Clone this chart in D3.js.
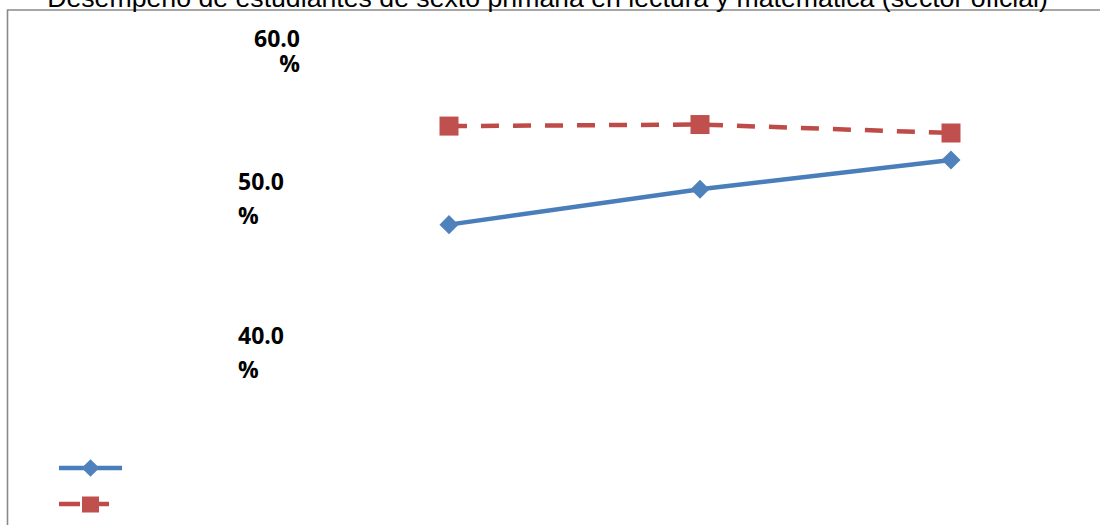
<!DOCTYPE html>
<html>
<head>
<meta charset="utf-8">
<script src="https://cdn.jsdelivr.net/npm/d3@7"></script>
<style>
  body { margin: 0; background: #fff; }
  svg { display: block; }
</style>
</head>
<body>
<svg width="1100" height="525"></svg>
<script>
// data
var titleText = "Desempeño de estudiantes de sexto primaria en lectura y matemática (sector oficial)";
var categories = ["c1", "c2", "c3"];
var lectura = [48.4, 50.7, 52.6];      // blue, solid, diamonds
var matematica = [54.8, 54.9, 54.35];  // red, dashed, squares
var yTicks = [40, 50, 60];

var svg = d3.select("svg");
var width = +svg.attr("width");
var height = +svg.attr("height");

// chart frame (cut at right and bottom)
svg.append("path")
    .attr("d", "M7.5," + height + "V10H" + width)
    .attr("fill", "none")
    .attr("stroke", "#898989")
    .attr("stroke-width", 1.6);

// title, partly above the picture as in the original
var title = svg.append("text")
    .attr("x", 547.5)
    .attr("y", 6.5)
    .attr("text-anchor", "middle")
    .attr("font-family", "Liberation Sans, Arial, sans-serif")
    .attr("font-size", 20)
    .attr("fill", "#000")
    .text(titleText);
var tw = title.node().getComputedTextLength();
title.attr("font-size", 20 * 1001 / tw);

var x = d3.scalePoint()
    .domain(categories)
    .range([449, 951]);

var y = d3.scaleLinear()
    .domain([40, 50])
    .range([354, 200]);

// y labels, wrapped in two lines like the original
var labels = svg.append("g")
    .attr("font-family", "Open Sans, Noto Sans, sans-serif")
    .attr("font-weight", "bold")
    .attr("font-size", 23)
    .attr("fill", "#000");

yTicks.forEach(function(v, i) {
  var top = i === yTicks.length - 1;
  var t = labels.append("text")
      .attr("text-anchor", top ? "end" : "start");
  var lx = top ? 300 : 238;
  var cy = y(v);
  t.append("tspan")
      .attr("x", lx)
      .attr("y", top ? cy + 1 : cy - 10)
      .text(v.toFixed(1));
  t.append("tspan")
      .attr("x", lx)
      .attr("y", top ? cy + 26 : cy + 23.5)
      .text("%");
});

var line = d3.line()
    .x(function(d, i) { return x(categories[i]); })
    .y(function(d) { return y(d); });

var blue = "#4A7EBB", blueMark = "#4F81BD";
var red = "#BE4B48", redMark = "#C0504D";

svg.append("path")
    .datum(matematica)
    .attr("d", line)
    .attr("fill", "none")
    .attr("stroke", red)
    .attr("stroke-width", 4.5)
    .attr("stroke-dasharray", "18,14");

svg.append("path")
    .datum(lectura)
    .attr("d", line)
    .attr("fill", "none")
    .attr("stroke", blue)
    .attr("stroke-width", 4.5);

var diamond = d3.symbol().type(d3.symbolSquare).size(13.5 * 13.5);

svg.append("g")
  .selectAll("path")
  .data(lectura)
  .enter().append("path")
    .attr("d", diamond)
    .attr("transform", function(d, i) { return "translate(" + x(categories[i]) + "," + y(d) + ") rotate(45)"; })
    .attr("fill", blueMark);

svg.append("g")
  .selectAll("rect")
  .data(matematica)
  .enter().append("rect")
    .attr("x", function(d, i) { return x(categories[i]) - 9.5; })
    .attr("y", function(d) { return y(d) - 9.5; })
    .attr("width", 19)
    .attr("height", 19)
    .attr("fill", redMark);

// legend (no text visible)
var leg = svg.append("g");
leg.append("line")
    .attr("x1", 59).attr("x2", 122)
    .attr("y1", 468).attr("y2", 468)
    .attr("stroke", blue).attr("stroke-width", 4.5);
leg.append("path")
    .attr("d", d3.symbol().type(d3.symbolSquare).size(12.5 * 12.5))
    .attr("transform", "translate(90.5,468) rotate(45)")
    .attr("fill", blueMark);
leg.append("line")
    .attr("x1", 59).attr("x2", 116)
    .attr("y1", 504).attr("y2", 504)
    .attr("stroke", red).attr("stroke-width", 4.5)
    .attr("stroke-dasharray", "21,3,0,9,17");
leg.append("rect")
    .attr("x", 82).attr("y", 496.5)
    .attr("width", 17).attr("height", 16)
    .attr("fill", redMark);
</script>
</body>
</html>
